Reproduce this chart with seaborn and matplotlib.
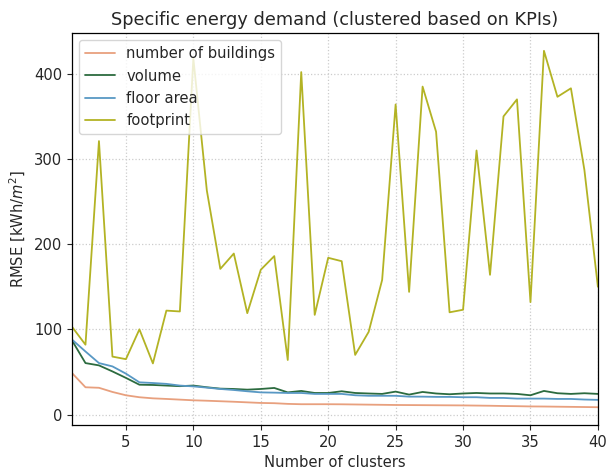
import numpy as np
import pandas as pd
import matplotlib
matplotlib.use("Agg")
import matplotlib.pyplot as plt
import seaborn as sns

clusters = list(range(1, 41))

number_of_buildings = [48.7, 32.0, 31.4, 26.5, 22.6, 20.3, 19.0, 18.3, 17.5, 16.7,
                       16.2, 15.6, 15.0, 14.3, 13.6, 13.3, 12.5, 12.1, 12.1, 12.1,
                       12.0, 11.8, 11.6, 11.4, 11.2, 11.1, 11.0, 10.9, 10.8, 10.7,
                       10.5, 10.3, 10.0, 9.8, 9.5, 9.4, 9.2, 9.0, 8.8, 8.6]

volume = [87.0, 60.4, 57.7, 50.6, 43.0, 35.0, 34.7, 34.0, 33.3, 34.0,
          32.0, 30.4, 30.0, 29.2, 30.0, 31.2, 26.0, 27.7, 25.3, 25.3,
          27.3, 25.3, 24.7, 24.2, 26.9, 23.4, 26.5, 24.7, 23.8, 24.7,
          25.3, 24.7, 24.7, 24.2, 22.6, 27.7, 25.0, 24.2, 25.0, 24.2]

floor_area = [88.0, 74.0, 60.4, 56.5, 48.0, 37.8, 37.0, 36.0, 34.0, 33.0,
              31.6, 30.0, 28.8, 27.3, 26.0, 25.7, 25.3, 25.3, 24.2, 24.2,
              24.2, 22.6, 22.0, 22.0, 22.0, 21.0, 21.0, 20.7, 20.7, 20.3,
              20.3, 19.5, 19.5, 18.7, 18.7, 18.7, 18.3, 18.3, 17.6, 17.2]

footprint = [103, 82, 321, 68, 65, 100, 60, 122, 121, 418,
             263, 171, 189, 119, 170, 186, 64, 402, 117, 184,
             180, 70, 97, 158, 364, 144, 385, 332, 120, 123,
             310, 164, 350, 370, 132, 427, 373, 383, 287, 150]

series_names = ["number of buildings", "volume", "floor area", "footprint"]
series_values = [number_of_buildings, volume, floor_area, footprint]

df = pd.DataFrame({
    "Number of clusters": np.tile(clusters, len(series_names)),
    "RMSE": np.concatenate(series_values),
    "KPI": np.repeat(series_names, len(clusters)),
})

palette = {
    "number of buildings": "#e8a07e",
    "volume": "#2c6b3f",
    "floor area": "#5898c4",
    "footprint": "#b3b324",
}

sns.set_style("ticks")
plt.rcParams["font.family"] = ["DejaVu Sans"]

fig = plt.figure(figsize=(6.07, 4.70), dpi=100)
ax = fig.add_axes([0.1186, 0.0957, 0.8664, 0.8341])

sns.lineplot(data=df, x="Number of clusters", y="RMSE", hue="KPI",
             palette=palette, linewidth=1.3, ax=ax)

ax.set_xlim(1, 40)
ax.set_xticks([5, 10, 15, 20, 25, 30, 35, 40])
ax.grid(True, linestyle=":", color="#cccccc", linewidth=0.9)
ax.set_title("Specific energy demand (clustered based on KPIs)", fontsize=12.8)
ax.set_xlabel("Number of clusters", fontsize=10.6)
ax.set_ylabel("RMSE [kWh/$m^2$]", fontsize=10.6)
ax.tick_params(labelsize=10.6)
for s in ax.spines.values():
    s.set_color("black")
    s.set_linewidth(0.9)

leg = ax.legend(loc="upper left", fontsize=10.6, title=None, frameon=True)

fig.savefig("out.png", dpi=100)
